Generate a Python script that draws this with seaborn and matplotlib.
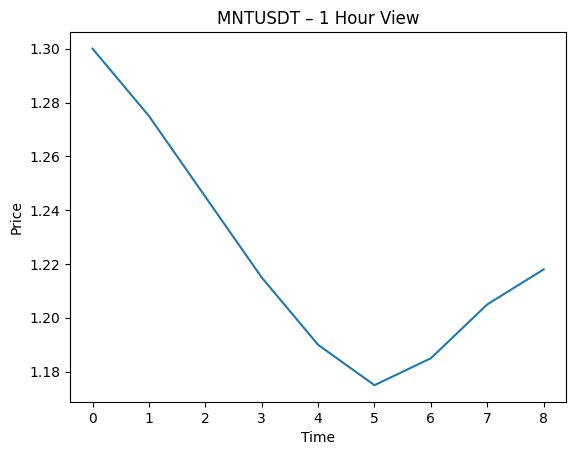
import numpy as np
import pandas as pd
import matplotlib
matplotlib.use("Agg")
import matplotlib.pyplot as plt
import seaborn as sns

# price readings per hour
time = [0, 1, 2, 3, 4, 5, 6, 7, 8]
price = [1.300, 1.275, 1.245, 1.215, 1.190, 1.175, 1.185, 1.205, 1.218]

df = pd.DataFrame({"Time": time, "Price": price})

fig, ax = plt.subplots(figsize=(5.76, 4.55), dpi=100)
sns.lineplot(data=df, x="Time", y="Price", ax=ax)
ax.set_title("MNTUSDT \u2013 1 Hour View")
ax.set_xlabel("Time")
ax.set_ylabel("Price")
fig.subplots_adjust(left=0.1215, right=0.983, top=0.93, bottom=0.1165)
plt.savefig("out.png")
